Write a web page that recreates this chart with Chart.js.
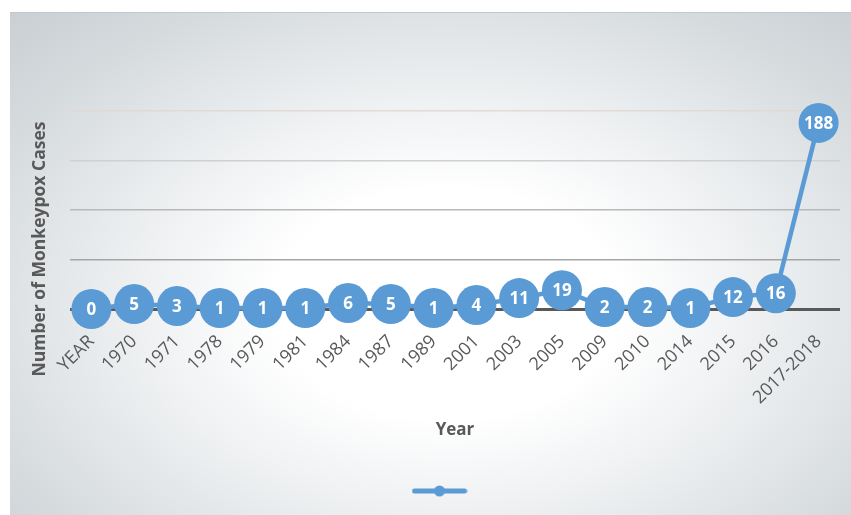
<!DOCTYPE html>
<html>
<head>
<meta charset="utf-8">
<script src="https://cdn.jsdelivr.net/npm/chart.js@4"></script>
<style>
    html, body {
        margin: 0;
        padding: 0;
        background: #ffffff;
    }

    .container {
        position: absolute;
        left: 10px;
        top: 12px;
        width: 841px;
        height: 503px;
        background: radial-gradient(ellipse farthest-corner at 52% 58%, #ffffff 0%, #ffffff 28%, #e8ebed 58%, #d6dbde 80%, #c9cfd3 100%);
        border-top: 1px solid #c4c8cb;
        box-sizing: border-box;
    }

    #myChart {
        position: absolute;
        left: 0;
        top: -1px;
    }
</style>
</head>
<body>
<div class="container">
    <canvas id="myChart" width="841" height="503"></canvas>
</div>

<script>
const years = [
    "YEAR", "1970", "1971", "1978", "1979", "1981", "1984", "1987", "1989",
    "2001", "2003", "2005", "2009", "2010", "2014", "2015", "2016", "2017-2018"
];
const cases = [0, 5, 3, 1, 1, 1, 6, 5, 1, 4, 11, 19, 2, 2, 1, 12, 16, 188];
const yTicks = [0, 50, 100, 150, 200];

const blue = "#5b9bd5";
const grey = "#595959";

// legend marker: line with a dot in the middle
const legendMark = document.createElement("canvas");
legendMark.width = 56;
legendMark.height = 14;
{
    const g = legendMark.getContext("2d");
    g.strokeStyle = blue;
    g.lineWidth = 5;
    g.lineCap = "round";
    g.beginPath();
    g.moveTo(3, 7);
    g.lineTo(53, 7);
    g.stroke();
    g.fillStyle = blue;
    g.beginPath();
    g.arc(28, 7, 5.5, 0, Math.PI * 2);
    g.fill();
}

const valueLabels = {
    id: "valueLabels",
    afterDatasetsDraw(chart) {
        const ctx = chart.ctx;
        const meta = chart.getDatasetMeta(0);
        ctx.save();
        ctx.fillStyle = "#ffffff";
        ctx.font = "bold 17px 'Open Sans'";
        ctx.textAlign = "center";
        ctx.textBaseline = "middle";
        meta.data.forEach((pt, i) => {
            ctx.fillText(String(cases[i]), pt.x, pt.y + 1);
        });
        ctx.restore();
    }
};

const yTitle = {
    id: "yTitle",
    afterDraw(chart) {
        const ctx = chart.ctx;
        ctx.save();
        ctx.translate(30, 237);
        ctx.rotate(-Math.PI / 2);
        ctx.fillStyle = grey;
        ctx.font = "bold 17.5px 'Open Sans'";
        ctx.textAlign = "center";
        ctx.textBaseline = "middle";
        ctx.fillText("Number of Monkeypox Cases", 0, 0);
        ctx.restore();
    }
};

const ctx = document.getElementById("myChart").getContext("2d");

new Chart(ctx, {
    type: "line",

    plugins: [valueLabels, yTitle],

    data: {
        labels: years,
        datasets: [
            {
                label: "",
                data: cases,
                borderColor: blue,
                borderWidth: 4.5,
                backgroundColor: blue,
                pointBackgroundColor: blue,
                pointBorderWidth: 0,
                pointRadius: 20,
                pointHoverRadius: 20,
                tension: 0,
                clip: false
            }
        ]
    },

    options: {
        responsive: false,
        animation: false,
        events: [],

        layout: {
            autoPadding: false,
            padding: {
                top: 99,
                right: 11,
                left: 35,
                bottom: 8
            }
        },

        plugins: {
            legend: {
                position: "bottom",
                labels: {
                    usePointStyle: true,
                    pointStyle: legendMark,
                    pointStyleWidth: 56,
                    padding: 19,
                    font: {
                        size: 12
                    }
                }
            },
            tooltip: {
                enabled: false
            }
        },

        scales: {
            x: {
                offset: true,
                grid: {
                    display: false,
                    drawTicks: false
                },
                border: {
                    display: false
                },
                ticks: {
                    minRotation: 45,
                    maxRotation: 45,
                    padding: 22,
                    color: grey,
                    font: {
                        family: "'Open Sans'",
                        size: 18
                    }
                },
                title: {
                    display: true,
                    text: "Year",
                    color: grey,
                    padding: {
                        top: 0,
                        bottom: 26
                    },
                    font: {
                        family: "'Open Sans'",
                        size: 17,
                        weight: "bold"
                    }
                },
                afterFit: (scale) => {
                    scale.height = 157;
                    scale.paddingLeft = 0;
                    scale.paddingRight = 0;
                }
            },
            y: {
                min: 0,
                max: 200,
                afterBuildTicks: (scale) => {
                    scale.ticks = yTicks.map((v) => ({ value: v }));
                },
                ticks: {
                    display: false
                },
                border: {
                    display: false
                },
                grid: {
                    drawTicks: false,
                    color: (c) => {
                        const v = c.tick.value;
                        if (v === 0) return grey;
                        if (v === 200) return "rgba(225, 215, 210, 0.9)";
                        if (v === 150) return "#d0d0d0";
                        if (v === 100) return "#b8b8b8";
                        return "#a5a5a5";
                    },
                    lineWidth: (c) => (c.tick.value === 0 ? 3 : 1.5)
                },
                afterFit: (scale) => {
                    scale.width = 25;
                }
            }
        }
    }
});
</script>
</body>
</html>
